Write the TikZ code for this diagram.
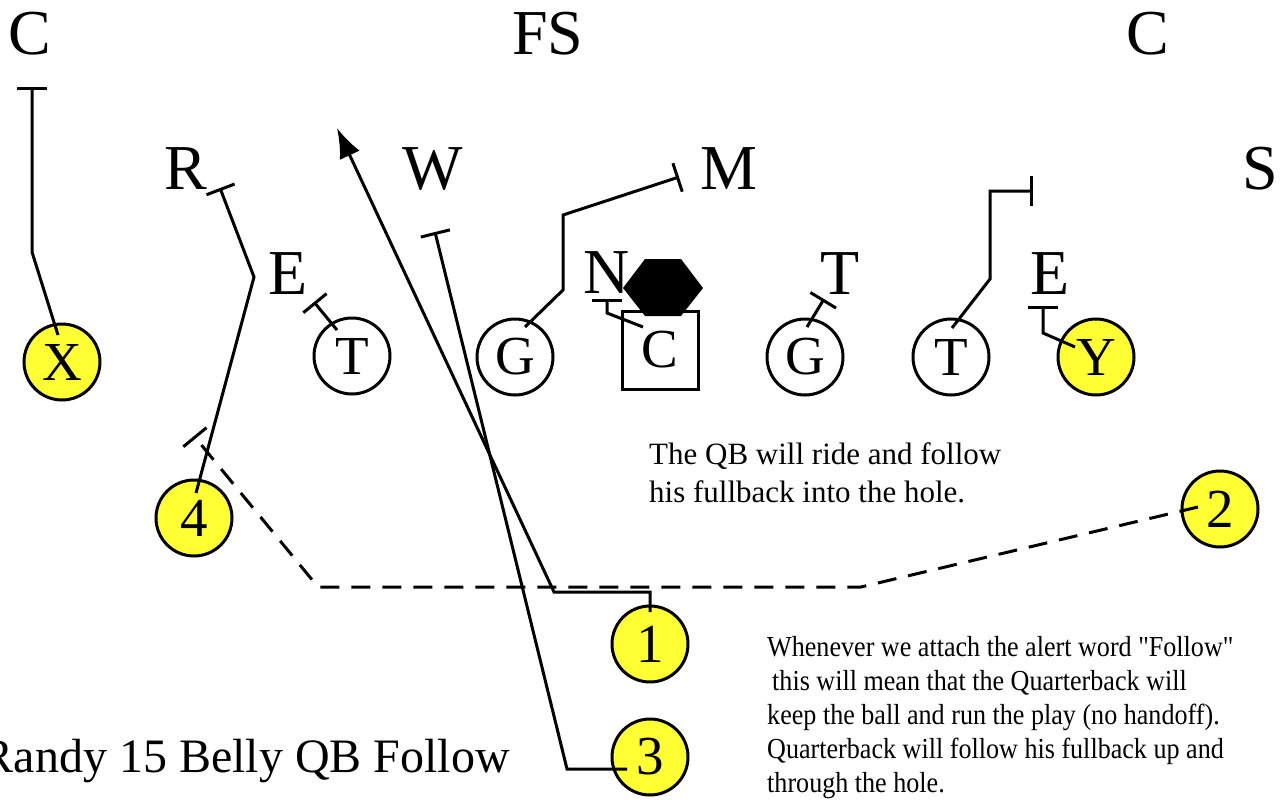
\documentclass[tikz,border=0pt]{standalone}
\usepackage{fontspec}
\setmainfont{Liberation Serif}
\newfontfamily\notefont{Liberation Serif}[FakeStretch=0.9]
\usetikzlibrary{arrows.meta}
\definecolor{plyellow}{HTML}{FFFF33}

\begin{document}
\begin{tikzpicture}[x=1pt, y=-1pt,
        every node/.style={inner sep=0pt},
        pl/.style={
          circle, draw, line width=3pt,
          fill=white, minimum size=76pt,
          font=\fontsize{55}{55}\selectfont,
        },
        sk/.style={pl, fill=plyellow},
        ctr/.style={
          draw, line width=3pt,
          minimum width=76pt, minimum height=78pt,
          font=\fontsize{55}{55}\selectfont,
        },
        df/.style={font=\fontsize{64}{64}\selectfont},
        rte/.style={line width=3pt},
        blk/.style={rte, -{Bar[width=30pt]}},
        cmt/.style={anchor=base west, align=left},
      ]
      \useasboundingbox (0,0) rectangle (1286,800);

      % defense
      \node[df] (cl) at (30,34)   {C};
      \node[df] (fs) at (548,34)  {FS};
      \node[df] (cr) at (1148,34) {C};
      \node[df] (r)  at (186,169) {R};
      \node[df] (w)  at (433,169) {W};
      \node[df] (m)  at (729,169) {M};
      \node[df] (s)  at (1260,169) {S};
      \node[df] (el) at (288,274) {E};
      \node[df] (n)  at (607,273) {N};
      \node[df] (td) at (840,274) {T};
      \node[df] (er) at (1050,274) {E};

      % offense
      \node[sk]  (x)  at (62,362)   {X};
      \node[pl]  (tl) at (352,356)  {T};
      \node[pl]  (gl) at (515,357)  {G};
      \node[ctr] (c)  at (660,350)  {C};
      \node[pl]  (gr) at (805,357)  {G};
      \node[pl]  (tr) at (951,357)  {T};
      \node[sk]  (y)  at (1096,357) {Y};
      \node[sk]  (b4) at (194,518)  {4};
      \node[sk]  (b1) at (650,644)  {1};
      \node[sk]  (b2) at (1220,509) {2};
      \node[sk]  (b3) at (650,757)  {3};

      \fill (623,288) -- (645,259) -- (681,259) -- (703,288)
        -- (681,316) -- (645,316) -- cycle;

      % blocks
      \coordinate (xb)  at (32,87);
      \coordinate (b4b) at (220,188);
      \coordinate (tlb) at (314,302);
      \coordinate (glb) at (679,177);
      \coordinate (cb)  at (607,299);
      \coordinate (grb) at (824,299);
      \coordinate (trb) at (1033,191);
      \coordinate (yb)  at (1043,306);
      \coordinate (b3b) at (435,232);
      \coordinate (b2b) at (194,436);
      \coordinate (qb)  at (337,128);

      \draw[blk] ([shift={(-4,-27)}]x.center) -- (32,252) -- (xb);
      \draw[blk] ([shift={(2,-25)}]b4.center) -- (254,277) -- (b4b);
      \draw[blk] ([shift={(-15,-26)}]tl.center) -- (tlb);
      \draw[blk] ([shift={(10,-30)}]gl.center) -- (563,290) -- (563,215) -- (glb);
      \draw[blk] ([shift={(-17,-23)}]c.center) -- (607,313) -- (cb);
      \draw[blk] ([shift={(2,-30)}]gr.center) -- (grb);
      \draw[blk] ([shift={(1,-29)}]tr.center) -- (990,279) -- (990,191) -- (trb);
      \draw[blk] ([shift={(-21,-10)}]y.center) -- (1043,333) -- (yb);

      % backs
      \draw[rte, -{Latex[length=30pt, width=22pt]}]
        ([shift={(0,-32)}]b1.center) -- (650,592) -- (554,592) -- (qb);
      \draw[blk] ([shift={(-23,12)}]b3.center) -- (567,769) -- (b3b);
      \draw[blk, dash pattern=on 19pt off 12pt]
        ([shift={(-22,-2)}]b2.center) -- (861,587) -- (318,587) -- (b2b);

      \node[cmt, font=\fontsize{31}{38}\selectfont] (qbtxt) at (649,502)
        {The QB will ride and follow\\his fullback into the hole.};
      \node[cmt, font=\notefont\fontsize{29}{34}\selectfont] (followtxt) at (767,792)
        {Whenever we attach the alert word "Follow"\\
         \hspace{5pt}this will mean that the Quarterback will\\
         keep the ball and run the play (no handoff).\\
         Quarterback will follow his fullback up and\\
         through the hole.};
      \node[anchor=base east, font=\fontsize{48}{48}\selectfont] (title) at (510,772)
        {Randy 15 Belly QB Follow};
    \end{tikzpicture}
\end{document}
